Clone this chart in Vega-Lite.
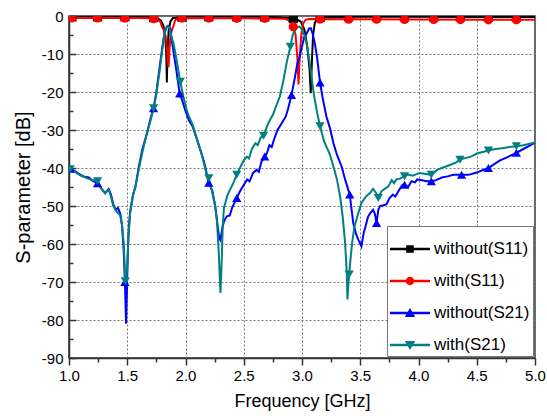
{
  "$schema": "https://vega.github.io/schema/vega-lite/v6.json",
  "width": 466,
  "height": 342,
  "autosize": {"type": "none"},
  "padding": {"left": 69, "top": 16, "right": 12, "bottom": 58},
  "background": "white",
  "config": {
    "view": {"stroke": "#333", "strokeWidth": 1.5},
    "axis": {
      "labelFont": "Liberation Sans",
      "titleFont": "Liberation Sans",
      "labelColor": "#000",
      "titleColor": "#000",
      "titleFontWeight": "normal",
      "labelFlush": false,
      "domainColor": "#333",
      "domainWidth": 1.5,
      "tickColor": "#333",
      "tickWidth": 1.5,
      "gridColor": "#777",
      "gridDash": [2, 2],
      "gridWidth": 1
    }
  },
  "datasets": {
    "curves": [
      {"s":"without(S11)","f":1.0,"v":-0.2},{"s":"without(S11)","f":1.3,"v":-0.2},{"s":"without(S11)","f":1.6,"v":-0.25},{"s":"without(S11)","f":1.7,"v":-0.3},{"s":"without(S11)","f":1.76,"v":-0.6},{"s":"without(S11)","f":1.79,"v":-1.2},{"s":"without(S11)","f":1.81,"v":-2.5},{"s":"without(S11)","f":1.825,"v":-5},{"s":"without(S11)","f":1.835,"v":-10},{"s":"without(S11)","f":1.84,"v":-17.5},{"s":"without(S11)","f":1.845,"v":-10},{"s":"without(S11)","f":1.855,"v":-4},{"s":"without(S11)","f":1.87,"v":-1.5},{"s":"without(S11)","f":1.89,"v":-0.6},{"s":"without(S11)","f":1.95,"v":-0.3},{"s":"without(S11)","f":2.3,"v":-0.2},{"s":"without(S11)","f":2.6,"v":-0.2},{"s":"without(S11)","f":2.8,"v":-0.3},{"s":"without(S11)","f":2.9,"v":-0.5},{"s":"without(S11)","f":2.95,"v":-0.8},{"s":"without(S11)","f":2.99,"v":-1.5},{"s":"without(S11)","f":3.02,"v":-3.5},{"s":"without(S11)","f":3.045,"v":-8},{"s":"without(S11)","f":3.065,"v":-14},{"s":"without(S11)","f":3.075,"v":-20.3},{"s":"without(S11)","f":3.085,"v":-12},{"s":"without(S11)","f":3.095,"v":-5},{"s":"without(S11)","f":3.11,"v":-1.8},{"s":"without(S11)","f":3.13,"v":-0.7},{"s":"without(S11)","f":3.17,"v":-0.3},{"s":"without(S11)","f":3.5,"v":-0.2},{"s":"without(S11)","f":4.0,"v":-0.2},{"s":"without(S11)","f":4.5,"v":-0.25},{"s":"without(S11)","f":5.0,"v":-0.25},
      {"s":"with(S11)","f":1.0,"v":-0.5},{"s":"with(S11)","f":1.3,"v":-0.5},{"s":"with(S11)","f":1.6,"v":-0.55},{"s":"with(S11)","f":1.7,"v":-0.6},{"s":"with(S11)","f":1.76,"v":-0.9},{"s":"with(S11)","f":1.785,"v":-1.6},{"s":"with(S11)","f":1.8,"v":-3.0},{"s":"with(S11)","f":1.815,"v":-3.8},{"s":"with(S11)","f":1.83,"v":-5.5},{"s":"with(S11)","f":1.845,"v":-10},{"s":"with(S11)","f":1.854,"v":-13.5},{"s":"with(S11)","f":1.862,"v":-9},{"s":"with(S11)","f":1.872,"v":-5},{"s":"with(S11)","f":1.885,"v":-3.5},{"s":"with(S11)","f":1.897,"v":-2.6},{"s":"with(S11)","f":1.91,"v":-1.2},{"s":"with(S11)","f":1.93,"v":-0.7},{"s":"with(S11)","f":2.0,"v":-0.55},{"s":"with(S11)","f":2.5,"v":-0.6},{"s":"with(S11)","f":2.85,"v":-0.7},{"s":"with(S11)","f":2.89,"v":-1.2},{"s":"with(S11)","f":2.91,"v":-2.0},{"s":"with(S11)","f":2.925,"v":-2.8},{"s":"with(S11)","f":2.945,"v":-5},{"s":"with(S11)","f":2.96,"v":-11},{"s":"with(S11)","f":2.97,"v":-18},{"s":"with(S11)","f":2.98,"v":-11},{"s":"with(S11)","f":2.995,"v":-4.5},{"s":"with(S11)","f":3.01,"v":-2},{"s":"with(S11)","f":3.03,"v":-1},{"s":"with(S11)","f":3.06,"v":-0.8},{"s":"with(S11)","f":3.5,"v":-0.85},{"s":"with(S11)","f":4.0,"v":-0.9},{"s":"with(S11)","f":4.5,"v":-1.0},{"s":"with(S11)","f":5.0,"v":-1.0},
      {"s":"without(S21)","f":1.0,"v":-40},{"s":"without(S21)","f":1.05,"v":-40.8},{"s":"without(S21)","f":1.1,"v":-41.8},{"s":"without(S21)","f":1.125,"v":-42.2},{"s":"without(S21)","f":1.17,"v":-42.5},{"s":"without(S21)","f":1.2,"v":-43.3},{"s":"without(S21)","f":1.245,"v":-44},{"s":"without(S21)","f":1.28,"v":-45.5},{"s":"without(S21)","f":1.31,"v":-46.6},{"s":"without(S21)","f":1.34,"v":-45.5},{"s":"without(S21)","f":1.36,"v":-47},{"s":"without(S21)","f":1.38,"v":-49.5},{"s":"without(S21)","f":1.4,"v":-51},{"s":"without(S21)","f":1.42,"v":-50.5},{"s":"without(S21)","f":1.44,"v":-52},{"s":"without(S21)","f":1.455,"v":-55},{"s":"without(S21)","f":1.47,"v":-62},{"s":"without(S21)","f":1.48,"v":-70},{"s":"without(S21)","f":1.49,"v":-81},{"s":"without(S21)","f":1.495,"v":-75},{"s":"without(S21)","f":1.505,"v":-62},{"s":"without(S21)","f":1.515,"v":-55},{"s":"without(S21)","f":1.525,"v":-51.5},{"s":"without(S21)","f":1.55,"v":-47},{"s":"without(S21)","f":1.57,"v":-45},{"s":"without(S21)","f":1.6,"v":-39.5},{"s":"without(S21)","f":1.63,"v":-35},{"s":"without(S21)","f":1.67,"v":-30.8},{"s":"without(S21)","f":1.7,"v":-27},{"s":"without(S21)","f":1.726,"v":-24.3},{"s":"without(S21)","f":1.75,"v":-20},{"s":"without(S21)","f":1.78,"v":-13},{"s":"without(S21)","f":1.8,"v":-8.5},{"s":"without(S21)","f":1.82,"v":-4.5},{"s":"without(S21)","f":1.84,"v":-2.8},{"s":"without(S21)","f":1.855,"v":-2.6},{"s":"without(S21)","f":1.87,"v":-3.5},{"s":"without(S21)","f":1.885,"v":-7},{"s":"without(S21)","f":1.9,"v":-10},{"s":"without(S21)","f":1.92,"v":-14},{"s":"without(S21)","f":1.95,"v":-20.4},{"s":"without(S21)","f":1.97,"v":-22},{"s":"without(S21)","f":2.0,"v":-25},{"s":"without(S21)","f":2.03,"v":-27.5},{"s":"without(S21)","f":2.06,"v":-29},{"s":"without(S21)","f":2.1,"v":-32.6},{"s":"without(S21)","f":2.13,"v":-35.5},{"s":"without(S21)","f":2.16,"v":-38.5},{"s":"without(S21)","f":2.2,"v":-43.9},{"s":"without(S21)","f":2.23,"v":-46},{"s":"without(S21)","f":2.255,"v":-50},{"s":"without(S21)","f":2.275,"v":-55},{"s":"without(S21)","f":2.29,"v":-58.5},{"s":"without(S21)","f":2.3,"v":-59},{"s":"without(S21)","f":2.315,"v":-56},{"s":"without(S21)","f":2.33,"v":-54},{"s":"without(S21)","f":2.355,"v":-52.7},{"s":"without(S21)","f":2.38,"v":-52.5},{"s":"without(S21)","f":2.4,"v":-50.5},{"s":"without(S21)","f":2.44,"v":-47.9},{"s":"without(S21)","f":2.47,"v":-46},{"s":"without(S21)","f":2.5,"v":-44.5},{"s":"without(S21)","f":2.53,"v":-43},{"s":"without(S21)","f":2.55,"v":-43.5},{"s":"without(S21)","f":2.58,"v":-41.3},{"s":"without(S21)","f":2.61,"v":-40.5},{"s":"without(S21)","f":2.63,"v":-41},{"s":"without(S21)","f":2.65,"v":-38.5},{"s":"without(S21)","f":2.68,"v":-37},{"s":"without(S21)","f":2.7,"v":-36},{"s":"without(S21)","f":2.72,"v":-34},{"s":"without(S21)","f":2.74,"v":-34.5},{"s":"without(S21)","f":2.76,"v":-32.5},{"s":"without(S21)","f":2.79,"v":-30},{"s":"without(S21)","f":2.81,"v":-29},{"s":"without(S21)","f":2.84,"v":-27.5},{"s":"without(S21)","f":2.86,"v":-26.5},{"s":"without(S21)","f":2.88,"v":-24.5},{"s":"without(S21)","f":2.91,"v":-20.8},{"s":"without(S21)","f":2.94,"v":-16},{"s":"without(S21)","f":2.96,"v":-12.5},{"s":"without(S21)","f":2.98,"v":-10.7},{"s":"without(S21)","f":3.0,"v":-8},{"s":"without(S21)","f":3.02,"v":-5.5},{"s":"without(S21)","f":3.04,"v":-4.6},{"s":"without(S21)","f":3.06,"v":-3.3},{"s":"without(S21)","f":3.075,"v":-3.2},{"s":"without(S21)","f":3.09,"v":-4.5},{"s":"without(S21)","f":3.11,"v":-7.2},{"s":"without(S21)","f":3.13,"v":-11},{"s":"without(S21)","f":3.155,"v":-17.5},{"s":"without(S21)","f":3.18,"v":-22},{"s":"without(S21)","f":3.21,"v":-26.5},{"s":"without(S21)","f":3.24,"v":-29.5},{"s":"without(S21)","f":3.27,"v":-33.5},{"s":"without(S21)","f":3.3,"v":-36.5},{"s":"without(S21)","f":3.34,"v":-39.6},{"s":"without(S21)","f":3.37,"v":-43},{"s":"without(S21)","f":3.41,"v":-47},{"s":"without(S21)","f":3.44,"v":-54.5},{"s":"without(S21)","f":3.465,"v":-57.5},{"s":"without(S21)","f":3.485,"v":-59},{"s":"without(S21)","f":3.51,"v":-60.6},{"s":"without(S21)","f":3.53,"v":-57},{"s":"without(S21)","f":3.545,"v":-55.4},{"s":"without(S21)","f":3.565,"v":-53},{"s":"without(S21)","f":3.584,"v":-51.9},{"s":"without(S21)","f":3.61,"v":-51},{"s":"without(S21)","f":3.625,"v":-52},{"s":"without(S21)","f":3.64,"v":-54.5},{"s":"without(S21)","f":3.655,"v":-51},{"s":"without(S21)","f":3.67,"v":-50},{"s":"without(S21)","f":3.7,"v":-49.8},{"s":"without(S21)","f":3.726,"v":-49.5},{"s":"without(S21)","f":3.75,"v":-48},{"s":"without(S21)","f":3.78,"v":-47},{"s":"without(S21)","f":3.8,"v":-47.5},{"s":"without(S21)","f":3.83,"v":-46},{"s":"without(S21)","f":3.86,"v":-44.5},{"s":"without(S21)","f":3.88,"v":-44.4},{"s":"without(S21)","f":3.91,"v":-45},{"s":"without(S21)","f":3.94,"v":-43.5},{"s":"without(S21)","f":3.97,"v":-43.8},{"s":"without(S21)","f":3.99,"v":-43},{"s":"without(S21)","f":4.03,"v":-43.2},{"s":"without(S21)","f":4.07,"v":-43.5},{"s":"without(S21)","f":4.11,"v":-43.5},{"s":"without(S21)","f":4.15,"v":-43.2},{"s":"without(S21)","f":4.2,"v":-42.5},{"s":"without(S21)","f":4.25,"v":-42.2},{"s":"without(S21)","f":4.3,"v":-41.8},{"s":"without(S21)","f":4.37,"v":-41.8},{"s":"without(S21)","f":4.43,"v":-41.8},{"s":"without(S21)","f":4.5,"v":-41.2},{"s":"without(S21)","f":4.55,"v":-40.6},{"s":"without(S21)","f":4.6,"v":-40},{"s":"without(S21)","f":4.65,"v":-39},{"s":"without(S21)","f":4.7,"v":-38},{"s":"without(S21)","f":4.76,"v":-37.2},{"s":"without(S21)","f":4.84,"v":-36},{"s":"without(S21)","f":4.9,"v":-35},{"s":"without(S21)","f":4.95,"v":-34.2},{"s":"without(S21)","f":5.0,"v":-33.3},
      {"s":"with(S21)","f":1.0,"v":-40},{"s":"with(S21)","f":1.02,"v":-40.5},{"s":"with(S21)","f":1.06,"v":-41.2},{"s":"with(S21)","f":1.1,"v":-42},{"s":"with(S21)","f":1.14,"v":-42.5},{"s":"with(S21)","f":1.18,"v":-43},{"s":"with(S21)","f":1.245,"v":-43.5},{"s":"with(S21)","f":1.28,"v":-45.5},{"s":"with(S21)","f":1.31,"v":-46.6},{"s":"with(S21)","f":1.34,"v":-45.7},{"s":"with(S21)","f":1.36,"v":-47.5},{"s":"with(S21)","f":1.38,"v":-50},{"s":"with(S21)","f":1.41,"v":-51.5},{"s":"with(S21)","f":1.44,"v":-52.5},{"s":"with(S21)","f":1.455,"v":-55},{"s":"with(S21)","f":1.47,"v":-60},{"s":"with(S21)","f":1.483,"v":-69.8},{"s":"with(S21)","f":1.49,"v":-70.5},{"s":"with(S21)","f":1.5,"v":-66},{"s":"with(S21)","f":1.51,"v":-58},{"s":"with(S21)","f":1.525,"v":-51.9},{"s":"with(S21)","f":1.55,"v":-47},{"s":"with(S21)","f":1.57,"v":-44.9},{"s":"with(S21)","f":1.61,"v":-38.7},{"s":"with(S21)","f":1.64,"v":-34.5},{"s":"with(S21)","f":1.67,"v":-30.8},{"s":"with(S21)","f":1.7,"v":-27.5},{"s":"with(S21)","f":1.726,"v":-24.3},{"s":"with(S21)","f":1.75,"v":-20.5},{"s":"with(S21)","f":1.78,"v":-14},{"s":"with(S21)","f":1.8,"v":-9},{"s":"with(S21)","f":1.815,"v":-5.5},{"s":"with(S21)","f":1.83,"v":-3.2},{"s":"with(S21)","f":1.845,"v":-2.6},{"s":"with(S21)","f":1.86,"v":-3},{"s":"with(S21)","f":1.875,"v":-5},{"s":"with(S21)","f":1.897,"v":-7.2},{"s":"with(S21)","f":1.92,"v":-11},{"s":"with(S21)","f":1.955,"v":-17.3},{"s":"with(S21)","f":1.98,"v":-21},{"s":"with(S21)","f":2.01,"v":-24.7},{"s":"with(S21)","f":2.03,"v":-26.5},{"s":"with(S21)","f":2.06,"v":-28.5},{"s":"with(S21)","f":2.1,"v":-32.6},{"s":"with(S21)","f":2.14,"v":-36.5},{"s":"with(S21)","f":2.18,"v":-41.5},{"s":"with(S21)","f":2.2,"v":-42.7},{"s":"with(S21)","f":2.23,"v":-46.5},{"s":"with(S21)","f":2.255,"v":-50},{"s":"with(S21)","f":2.27,"v":-54},{"s":"with(S21)","f":2.285,"v":-62},{"s":"with(S21)","f":2.3,"v":-72.9},{"s":"with(S21)","f":2.31,"v":-65},{"s":"with(S21)","f":2.32,"v":-55},{"s":"with(S21)","f":2.33,"v":-50.5},{"s":"with(S21)","f":2.36,"v":-47.2},{"s":"with(S21)","f":2.383,"v":-45.7},{"s":"with(S21)","f":2.41,"v":-44},{"s":"with(S21)","f":2.44,"v":-41.8},{"s":"with(S21)","f":2.47,"v":-39.8},{"s":"with(S21)","f":2.5,"v":-38},{"s":"with(S21)","f":2.527,"v":-37},{"s":"with(S21)","f":2.545,"v":-37.5},{"s":"with(S21)","f":2.57,"v":-35},{"s":"with(S21)","f":2.6,"v":-33.5},{"s":"with(S21)","f":2.62,"v":-34},{"s":"with(S21)","f":2.645,"v":-32},{"s":"with(S21)","f":2.67,"v":-31.5},{"s":"with(S21)","f":2.7,"v":-29},{"s":"with(S21)","f":2.726,"v":-27.3},{"s":"with(S21)","f":2.75,"v":-26},{"s":"with(S21)","f":2.78,"v":-23.5},{"s":"with(S21)","f":2.81,"v":-21.2},{"s":"with(S21)","f":2.84,"v":-17},{"s":"with(S21)","f":2.87,"v":-12},{"s":"with(S21)","f":2.9,"v":-8.1},{"s":"with(S21)","f":2.92,"v":-5},{"s":"with(S21)","f":2.94,"v":-3.7},{"s":"with(S21)","f":2.96,"v":-3},{"s":"with(S21)","f":2.98,"v":-2.8},{"s":"with(S21)","f":3.0,"v":-3.6},{"s":"with(S21)","f":3.02,"v":-5},{"s":"with(S21)","f":3.04,"v":-7.2},{"s":"with(S21)","f":3.07,"v":-13},{"s":"with(S21)","f":3.1,"v":-20.3},{"s":"with(S21)","f":3.13,"v":-25.5},{"s":"with(S21)","f":3.155,"v":-29},{"s":"with(S21)","f":3.19,"v":-33},{"s":"with(S21)","f":3.24,"v":-36.5},{"s":"with(S21)","f":3.27,"v":-39.6},{"s":"with(S21)","f":3.3,"v":-43},{"s":"with(S21)","f":3.327,"v":-47.5},{"s":"with(S21)","f":3.35,"v":-53},{"s":"with(S21)","f":3.37,"v":-59.7},{"s":"with(S21)","f":3.385,"v":-68},{"s":"with(S21)","f":3.39,"v":-74.6},{"s":"with(S21)","f":3.4,"v":-70},{"s":"with(S21)","f":3.41,"v":-66},{"s":"with(S21)","f":3.43,"v":-59.7},{"s":"with(S21)","f":3.45,"v":-55.5},{"s":"with(S21)","f":3.475,"v":-52.7},{"s":"with(S21)","f":3.51,"v":-49.2},{"s":"with(S21)","f":3.55,"v":-47.5},{"s":"with(S21)","f":3.584,"v":-46.6},{"s":"with(S21)","f":3.61,"v":-45.5},{"s":"with(S21)","f":3.635,"v":-46.5},{"s":"with(S21)","f":3.655,"v":-47.9},{"s":"with(S21)","f":3.68,"v":-46.2},{"s":"with(S21)","f":3.71,"v":-45.5},{"s":"with(S21)","f":3.74,"v":-44.9},{"s":"with(S21)","f":3.77,"v":-43.2},{"s":"with(S21)","f":3.79,"v":-44},{"s":"with(S21)","f":3.81,"v":-43},{"s":"with(S21)","f":3.84,"v":-42.8},{"s":"with(S21)","f":3.88,"v":-42.2},{"s":"with(S21)","f":3.91,"v":-41.7},{"s":"with(S21)","f":3.95,"v":-42},{"s":"with(S21)","f":4.01,"v":-41.3},{"s":"with(S21)","f":4.05,"v":-41.5},{"s":"with(S21)","f":4.11,"v":-41.8},{"s":"with(S21)","f":4.16,"v":-40.5},{"s":"with(S21)","f":4.2,"v":-40},{"s":"with(S21)","f":4.27,"v":-39.2},{"s":"with(S21)","f":4.32,"v":-38.6},{"s":"with(S21)","f":4.356,"v":-37.8},{"s":"with(S21)","f":4.4,"v":-37.4},{"s":"with(S21)","f":4.45,"v":-37},{"s":"with(S21)","f":4.5,"v":-36.2},{"s":"with(S21)","f":4.55,"v":-35.8},{"s":"with(S21)","f":4.6,"v":-35.4},{"s":"with(S21)","f":4.66,"v":-35},{"s":"with(S21)","f":4.72,"v":-34.8},{"s":"with(S21)","f":4.78,"v":-34.5},{"s":"with(S21)","f":4.84,"v":-34.3},{"s":"with(S21)","f":4.9,"v":-34},{"s":"with(S21)","f":5.0,"v":-33.3}
    ],
    "markers": [
      {"s":"without(S11)","f":1.025,"v":-0.2},{"s":"without(S11)","f":1.245,"v":-0.2},{"s":"without(S11)","f":1.48,"v":-0.2},{"s":"without(S11)","f":1.726,"v":-0.4},{"s":"without(S11)","f":1.97,"v":-0.3},{"s":"without(S11)","f":2.2,"v":-0.2},{"s":"without(S11)","f":2.44,"v":-0.2},{"s":"without(S11)","f":2.68,"v":-0.25},{"s":"without(S11)","f":2.925,"v":-0.65},{"s":"without(S11)","f":3.155,"v":-0.4},{"s":"without(S11)","f":3.4,"v":-0.2},{"s":"without(S11)","f":3.64,"v":-0.2},{"s":"without(S11)","f":3.88,"v":-0.2},{"s":"without(S11)","f":4.13,"v":-0.2},{"s":"without(S11)","f":4.36,"v":-0.2},{"s":"without(S11)","f":4.6,"v":-0.25},{"s":"without(S11)","f":4.84,"v":-0.25},
      {"s":"with(S11)","f":1.025,"v":-0.5},{"s":"with(S11)","f":1.245,"v":-0.5},{"s":"with(S11)","f":1.48,"v":-0.55},{"s":"with(S11)","f":1.726,"v":-0.7},{"s":"with(S11)","f":1.97,"v":-0.55},{"s":"with(S11)","f":2.2,"v":-0.55},{"s":"with(S11)","f":2.44,"v":-0.6},{"s":"with(S11)","f":2.68,"v":-0.6},{"s":"with(S11)","f":2.925,"v":-2.8},{"s":"with(S11)","f":3.155,"v":-0.8},{"s":"with(S11)","f":3.4,"v":-0.85},{"s":"with(S11)","f":3.64,"v":-0.85},{"s":"with(S11)","f":3.88,"v":-0.9},{"s":"with(S11)","f":4.13,"v":-0.9},{"s":"with(S11)","f":4.36,"v":-0.95},{"s":"with(S11)","f":4.6,"v":-1.0},{"s":"with(S11)","f":4.84,"v":-1.0},
      {"s":"without(S21)","f":1.01,"v":-40.2},{"s":"without(S21)","f":1.245,"v":-44},{"s":"without(S21)","f":1.48,"v":-70},{"s":"without(S21)","f":1.726,"v":-24.3},{"s":"without(S21)","f":1.95,"v":-20.4},{"s":"without(S21)","f":2.2,"v":-43.9},{"s":"without(S21)","f":2.44,"v":-47.9},{"s":"without(S21)","f":2.68,"v":-37},{"s":"without(S21)","f":2.91,"v":-20.8},{"s":"without(S21)","f":3.155,"v":-17.5},{"s":"without(S21)","f":3.41,"v":-47},{"s":"without(S21)","f":3.64,"v":-54.5},{"s":"without(S21)","f":3.88,"v":-44.4},{"s":"without(S21)","f":4.11,"v":-43.5},{"s":"without(S21)","f":4.37,"v":-41.8},{"s":"without(S21)","f":4.6,"v":-40},{"s":"without(S21)","f":4.84,"v":-36},
      {"s":"with(S21)","f":1.01,"v":-40.3},{"s":"with(S21)","f":1.245,"v":-43.5},{"s":"with(S21)","f":1.483,"v":-69.8},{"s":"with(S21)","f":1.726,"v":-24.3},{"s":"with(S21)","f":1.955,"v":-17.3},{"s":"with(S21)","f":2.2,"v":-42.7},{"s":"with(S21)","f":2.44,"v":-41.8},{"s":"with(S21)","f":2.67,"v":-31.5},{"s":"with(S21)","f":2.9,"v":-8.1},{"s":"with(S21)","f":3.155,"v":-29},{"s":"with(S21)","f":3.405,"v":-68},{"s":"with(S21)","f":3.655,"v":-47.9},{"s":"with(S21)","f":3.88,"v":-42.2},{"s":"with(S21)","f":4.11,"v":-41.8},{"s":"with(S21)","f":4.356,"v":-37.8},{"s":"with(S21)","f":4.6,"v":-35.4},{"s":"with(S21)","f":4.84,"v":-34.3}
    ]
  },
  "resolve": {
    "scale": {"color": "independent", "shape": "independent"},
    "axis": {"x": "independent", "y": "independent"}
  },
  "layer": [
    {
      "data": {"name": "curves"},
      "mark": {"type": "line", "strokeWidth": 2, "clip": true},
      "encoding": {
        "x": {
          "field": "f", "type": "quantitative",
          "scale": {"domain": [1, 5], "nice": false, "zero": false},
          "axis": {
            "orient": "bottom",
            "values": [1, 1.5, 2, 2.5, 3, 3.5, 4, 4.5, 5],
            "format": ".1f",
            "title": "Frequency [GHz]",
            "titleFontSize": 18,
            "labelFontSize": 15,
            "tickSize": 7,
            "labelPadding": 3,
            "titlePadding": 9,
            "grid": true
          }
        },
        "y": {
          "field": "v", "type": "quantitative",
          "scale": {"domain": [-90, 0], "nice": false, "zero": false},
          "axis": {
            "orient": "left",
            "values": [-90, -80, -70, -60, -50, -40, -30, -20, -10, 0],
            "labelExpr": "'' + datum.value",
            "title": "S-parameter [dB]",
            "titleFontSize": 20,
            "labelFontSize": 15,
            "tickSize": -7,
            "labelPadding": 13,
            "titlePadding": 8,
            "grid": true
          }
        },
        "color": {
          "field": "s", "type": "nominal",
          "scale": {"domain": ["without(S11)", "with(S11)", "without(S21)", "with(S21)"], "range": ["#000000", "#ff0000", "#0000ff", "#008080"]},
          "legend": null
        }
      }
    },
    {
      "data": {"name": "markers"},
      "mark": {"type": "point", "filled": true, "opacity": 1, "size": 85, "clip": true},
      "encoding": {
        "x": {
          "field": "f", "type": "quantitative",
          "scale": {"domain": [1, 5], "nice": false, "zero": false},
          "axis": {"orient": "bottom", "values": [1.25, 1.75, 2.25, 2.75, 3.25, 3.75, 4.25, 4.75], "labels": false, "grid": false, "domain": false, "tickSize": 4, "title": null}
        },
        "y": {
          "field": "v", "type": "quantitative",
          "scale": {"domain": [-90, 0], "nice": false, "zero": false},
          "axis": {"orient": "left", "values": [-85, -75, -65, -55, -45, -35, -25, -15, -5], "labels": false, "grid": false, "domain": false, "tickSize": -4, "title": null}
        },
        "color": {
          "field": "s", "type": "nominal",
          "scale": {"domain": ["without(S11)", "with(S11)", "without(S21)", "with(S21)"], "range": ["#000000", "#ff0000", "#0000ff", "#008080"]},
          "legend": null
        },
        "shape": {
          "field": "s", "type": "nominal",
          "scale": {"domain": ["without(S11)", "with(S11)", "without(S21)", "with(S21)"], "range": ["square", "circle", "triangle-up", "triangle-down"]},
          "legend": null
        }
      }
    },
    {
      "data": {"name": "markers"},
      "mark": {"type": "point", "filled": true, "opacity": 0},
      "encoding": {
        "color": {
          "field": "s", "type": "nominal",
          "scale": {"domain": ["without(S11)", "with(S11)", "without(S21)", "with(S21)"], "range": ["#000000", "#ff0000", "#0000ff", "#008080"]},
          "legend": {
            "orient": "bottom-right", "offset": 2, "title": null,
            "padding": 3, "strokeColor": "#777", "fillColor": "white",
            "labelFont": "Liberation Sans", "labelFontSize": 17, "labelColor": "#000",
            "labelLimit": 0, "labelOffset": 4, "rowPadding": 4,
            "symbolSize": 1600, "symbolOpacity": 1, "symbolStrokeWidth": 0, "symbolOffset": 0
          }
        },
        "shape": {
          "field": "s", "type": "nominal",
          "scale": {
            "domain": ["without(S11)", "with(S11)", "without(S21)", "with(S21)"],
            "range": [
              "M-1,-0.06H1V0.06H-1Z M-0.19,-0.19H0.19V0.19H-0.19Z",
              "M-1,-0.06H1V0.06H-1Z M-0.21,0A0.21,0.21,0,1,1,0.21,0A0.21,0.21,0,1,1,-0.21,0Z",
              "M-1,-0.06H1V0.06H-1Z M0,-0.25L0.26,0.2H-0.26Z",
              "M-1,-0.06H1V0.06H-1Z M0,0.25L-0.26,-0.2H0.26Z"
            ]
          },
          "legend": {
            "orient": "bottom-right", "offset": 2, "title": null,
            "padding": 3, "strokeColor": "#777", "fillColor": "white",
            "labelFont": "Liberation Sans", "labelFontSize": 17, "labelColor": "#000",
            "labelLimit": 0, "labelOffset": 4, "rowPadding": 4,
            "symbolSize": 1600, "symbolOpacity": 1, "symbolStrokeWidth": 0, "symbolOffset": 0
          }
        }
      }
    }
  ]
}
